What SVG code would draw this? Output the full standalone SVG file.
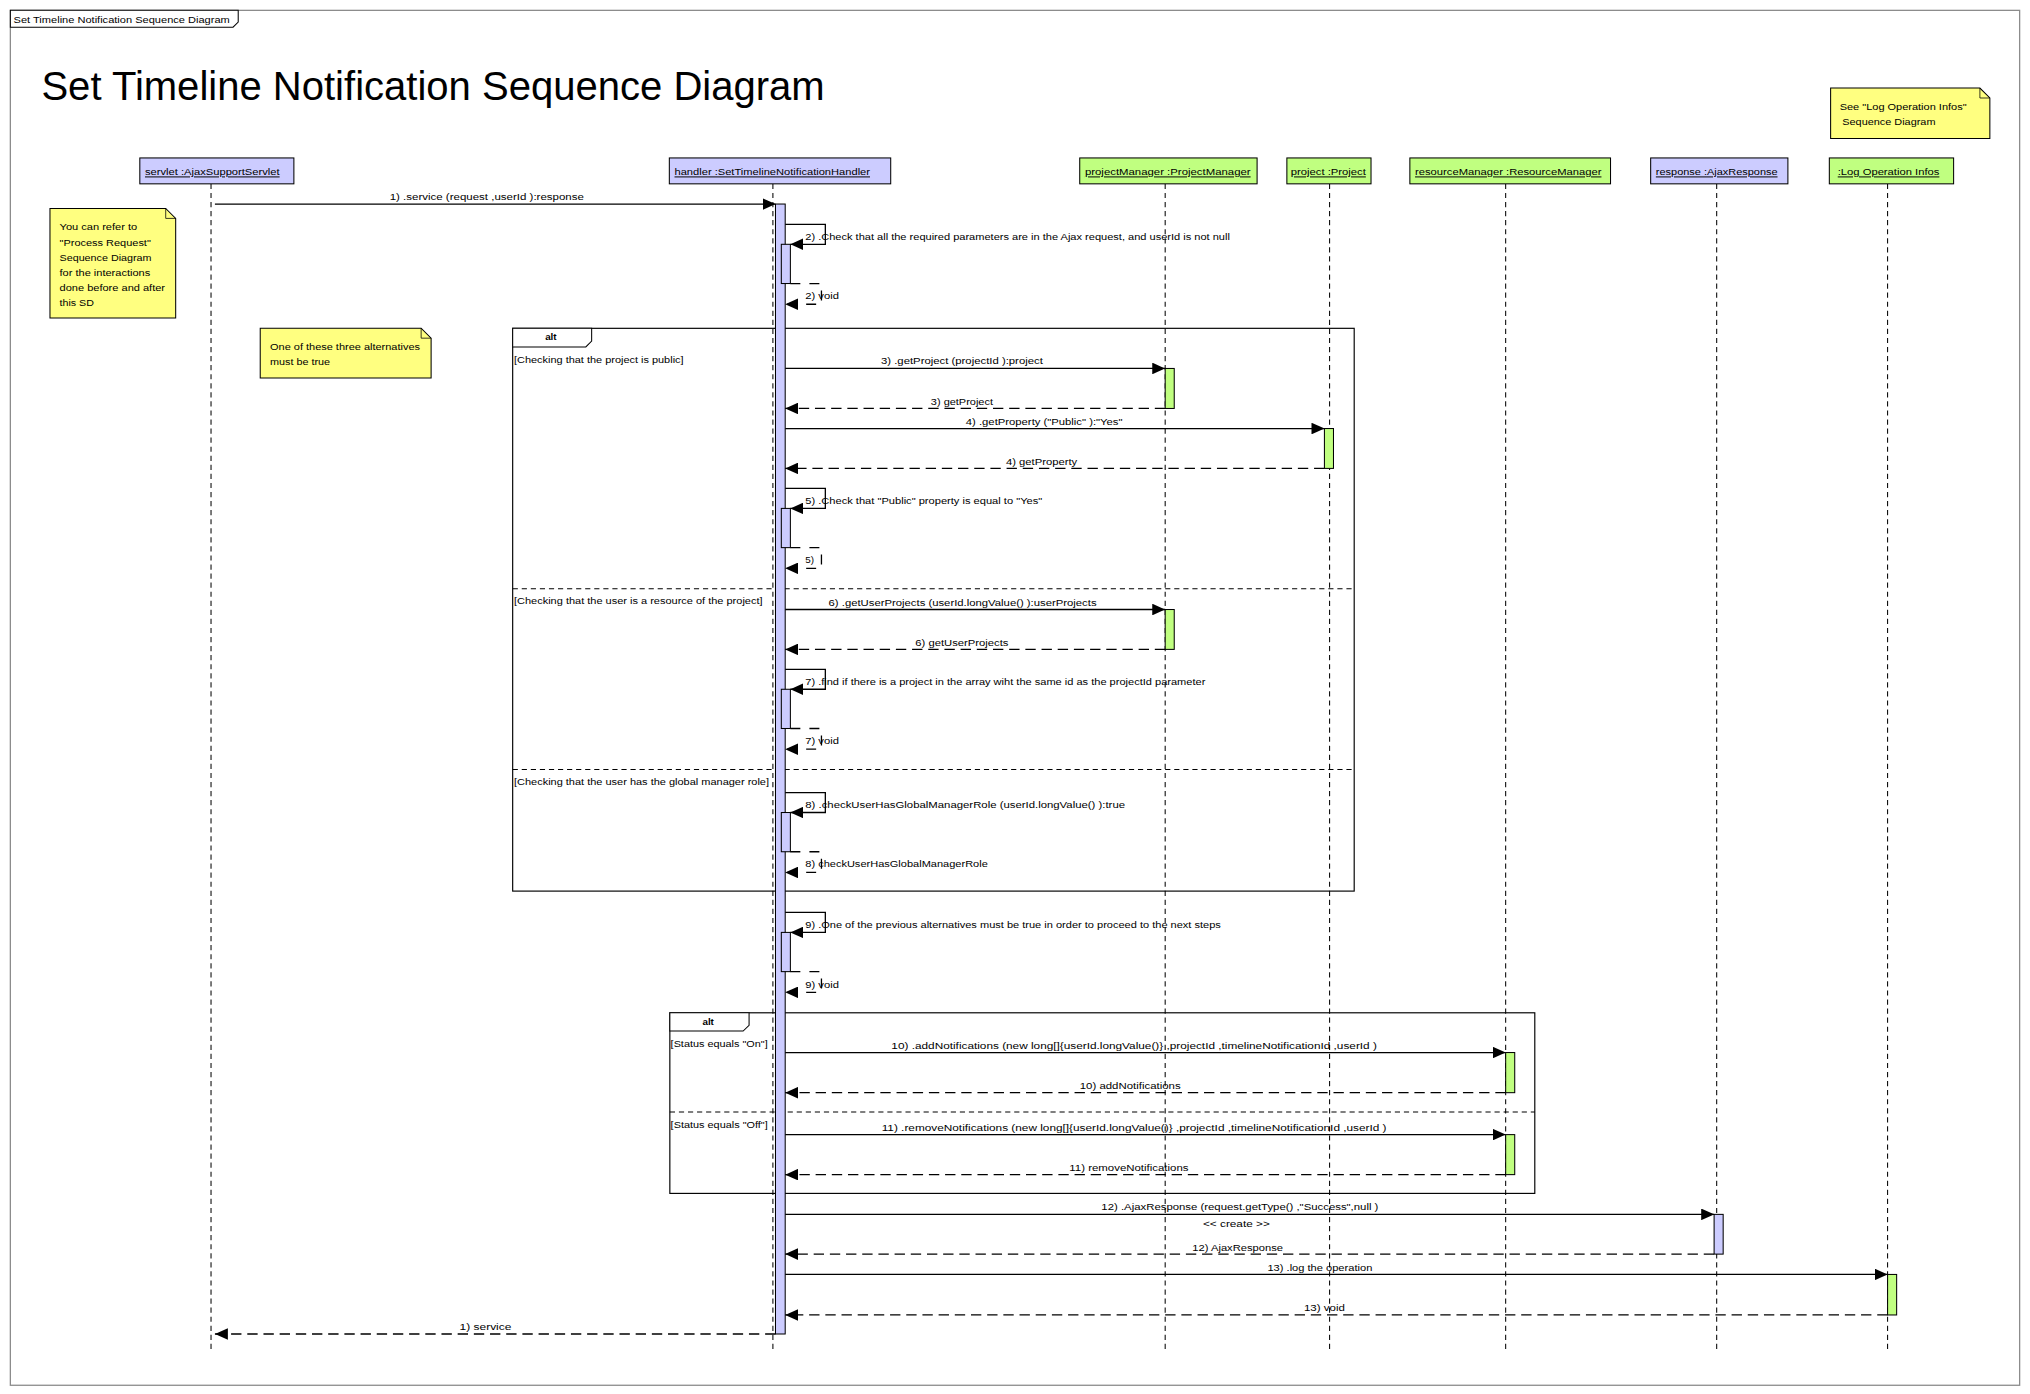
<svg xmlns="http://www.w3.org/2000/svg" width="2030" height="1394" viewBox="0 0 2030 1394">
<style>
.t{font-family:"Liberation Sans",Arial,sans-serif;font-size:7.6px;fill:#000}
.c{text-anchor:middle}
.u{text-decoration:underline}
.ll{stroke:#000;stroke-width:0.8;stroke-dasharray:4 3;fill:none}
.msg{stroke:#000;stroke-width:1;fill:none;marker-end:url(#ah)}
.ret{stroke:#000;stroke-width:1;fill:none;stroke-dasharray:8 4.5;marker-end:url(#ah)}
.sret{stroke:#000;stroke-width:1;fill:none;stroke-dasharray:7.7 7;marker-end:url(#ah)}
.lav{fill:#ccccff;stroke:#000;stroke-width:0.8}
.grn{fill:#c0ff80;stroke:#000;stroke-width:0.8}
.note{fill:#ffff80;stroke:#000;stroke-width:0.8}
.frm{fill:none;stroke:#000;stroke-width:0.9}
.sep{fill:none;stroke:#000;stroke-width:0.8;stroke-dasharray:4 3}
.tab{fill:#fff;stroke:#000;stroke-width:0.8}
</style>
<defs>
<marker id="ah" markerUnits="userSpaceOnUse" markerWidth="10" markerHeight="9" refX="10" refY="4.5" orient="auto">
<path d="M0,0 L10,4.5 L0,9 z" fill="#000"/>
</marker>
</defs>
<rect width="2030" height="1394" fill="#fff"/>
<g transform="scale(1.29464)">
<g id="frame">
<rect x="8" y="8" width="1552" height="1062" fill="none" stroke="#8c8c8c" stroke-width="1"/>
<polygon points="8,8 184,8 184,17 180,21 8,21" class="tab"/>
<text x="10.5" y="17.5" class="t" style="font-size:7px" textLength="167" lengthAdjust="spacingAndGlyphs">Set Timeline Notification Sequence Diagram</text>
<text x="32" y="77" style="font-family:'Liberation Sans',Arial,sans-serif;font-size:31px;fill:#000" textLength="605" lengthAdjust="spacingAndGlyphs">Set Timeline Notification Sequence Diagram</text>
</g>

<g id="alt1">
<rect x="396" y="253.6" width="650" height="434.7" class="frm"/>
<polygon points="396,253.6 457,253.6 457,263.5 452.5,268 396,268" class="tab"/>
<text x="425.5" y="263" class="t c" style="font-weight:bold">alt</text>
<line x1="396" y1="454.7" x2="1046" y2="454.7" class="sep"/>
<line x1="396" y1="594.3" x2="1046" y2="594.3" class="sep"/>
<text x="397" y="280.5" class="t" textLength="131" lengthAdjust="spacingAndGlyphs">[Checking that the project is public]</text>
<text x="397" y="466.5" class="t" textLength="192" lengthAdjust="spacingAndGlyphs">[Checking that the user is a resource of the project]</text>
<text x="397" y="606.5" class="t" textLength="197" lengthAdjust="spacingAndGlyphs">[Checking that the user has the global manager role]</text>
</g>

<g id="alt2">
<rect x="517.4" y="782.3" width="668.1" height="139.5" class="frm"/>
<polygon points="517.4,782.3 578.6,782.3 578.6,792 574,796.4 517.4,796.4" class="tab"/>
<text x="547" y="791.5" class="t c" style="font-weight:bold">alt</text>
<line x1="517.4" y1="859" x2="1185.5" y2="859" class="sep"/>
<text x="518" y="809" class="t" textLength="75" lengthAdjust="spacingAndGlyphs">[Status equals "On"]</text>
<text x="518" y="871.5" class="t" textLength="75" lengthAdjust="spacingAndGlyphs">[Status equals "Off"]</text>
</g>

<g id="servlet">
<line x1="163" y1="142" x2="163" y2="1045" class="ll"/>
<rect x="108" y="122" width="119" height="20" class="lav"/>
<text x="112" y="135.5" class="t u" textLength="104" lengthAdjust="spacingAndGlyphs">servlet :AjaxSupportServlet</text>
</g>

<g id="handler">
<line x1="597" y1="142" x2="597" y2="1045" class="ll"/>
<rect x="517" y="122" width="171" height="20" class="lav"/>
<text x="521" y="135.5" class="t u" textLength="151" lengthAdjust="spacingAndGlyphs">handler :SetTimelineNotificationHandler</text>
<rect x="599" y="157.6" width="7.5" height="872.8" class="lav"/>
<rect x="603.5" y="188.7" width="7" height="30.3" class="lav"/>
<rect x="603.5" y="392.7" width="7" height="30.3" class="lav"/>
<rect x="603.5" y="532.4" width="7" height="30.3" class="lav"/>
<rect x="603.5" y="627.6" width="7" height="30.3" class="lav"/>
<rect x="603.5" y="720.2" width="7" height="30.3" class="lav"/>
</g>

<g id="projectManager">
<line x1="900" y1="142" x2="900" y2="1045" class="ll"/>
<rect x="834" y="122" width="137" height="20" class="grn"/>
<text x="838" y="135.5" class="t u" textLength="128" lengthAdjust="spacingAndGlyphs">projectManager :ProjectManager</text>
<rect x="900" y="284.6" width="7" height="30.9" class="grn"/>
<rect x="900" y="470.8" width="7" height="30.8" class="grn"/>
</g>

<g id="project">
<line x1="1027" y1="142" x2="1027" y2="1045" class="ll"/>
<rect x="994" y="122" width="65" height="20" class="grn"/>
<text x="997" y="135.5" class="t u" textLength="58" lengthAdjust="spacingAndGlyphs">project :Project</text>
<rect x="1023" y="331" width="7" height="30.8" class="grn"/>
</g>

<g id="resourceManager">
<line x1="1163" y1="142" x2="1163" y2="1045" class="ll"/>
<rect x="1089" y="122" width="155" height="20" class="grn"/>
<text x="1093" y="135.5" class="t u" textLength="144" lengthAdjust="spacingAndGlyphs">resourceManager :ResourceManager</text>
<rect x="1163" y="813" width="7" height="31" class="grn"/>
<rect x="1163" y="876.4" width="7" height="30.9" class="grn"/>
</g>

<g id="response">
<line x1="1326" y1="142" x2="1326" y2="1045" class="ll"/>
<rect x="1275" y="122" width="106" height="20" class="lav"/>
<text x="1279" y="135.5" class="t u" textLength="94" lengthAdjust="spacingAndGlyphs">response :AjaxResponse</text>
<rect x="1324" y="938" width="7" height="30.7" class="lav"/>
</g>

<g id="logOperation">
<line x1="1458" y1="142" x2="1458" y2="1045" class="ll"/>
<rect x="1413" y="122" width="96" height="20" class="grn"/>
<text x="1419.5" y="135.5" class="t u" textLength="78.5" lengthAdjust="spacingAndGlyphs">:Log Operation Infos</text>
<rect x="1458" y="984.4" width="7" height="31.3" class="grn"/>
</g>

<g id="note-process">
<polygon points="38.6,161 128,161 135.7,168.7 135.7,245.7 38.6,245.7" class="note"/>
<polyline points="128,161 128,168.7 135.7,168.7" fill="none" stroke="#000" stroke-width="0.6"/>
<text x="46" y="178" class="t" textLength="60" lengthAdjust="spacingAndGlyphs">You can refer to</text>
<text x="46" y="190" class="t" textLength="70.5" lengthAdjust="spacingAndGlyphs">"Process Request"</text>
<text x="46" y="201.5" class="t" textLength="71" lengthAdjust="spacingAndGlyphs">Sequence Diagram</text>
<text x="46" y="213" class="t" textLength="70" lengthAdjust="spacingAndGlyphs">for the interactions</text>
<text x="46" y="224.5" class="t" textLength="81.5" lengthAdjust="spacingAndGlyphs">done before and after</text>
<text x="46" y="236" class="t" textLength="26.5" lengthAdjust="spacingAndGlyphs">this SD</text>
</g>

<g id="note-alternatives">
<polygon points="201,253.5 325.3,253.5 333,261.2 333,292 201,292" class="note"/>
<polyline points="325.3,253.5 325.3,261.2 333,261.2" fill="none" stroke="#000" stroke-width="0.6"/>
<text x="208.6" y="270.5" class="t" textLength="115.8" lengthAdjust="spacingAndGlyphs">One of these three alternatives</text>
<text x="208.6" y="282" class="t" textLength="46.4" lengthAdjust="spacingAndGlyphs">must be true</text>
</g>

<g id="note-log">
<polygon points="1414,68 1529.3,68 1537,75.7 1537,107 1414,107" class="note"/>
<polyline points="1529.3,68 1529.3,75.7 1537,75.7" fill="none" stroke="#000" stroke-width="0.6"/>
<text x="1421" y="85" class="t" textLength="98" lengthAdjust="spacingAndGlyphs">See "Log Operation Infos"</text>
<text x="1423" y="96.8" class="t" textLength="72" lengthAdjust="spacingAndGlyphs">Sequence Diagram</text>
</g>

<g id="connectors">
<path d="M166,157.6 H599" class="msg"/>
<text x="376" y="154.5" class="t c" textLength="150" lengthAdjust="spacingAndGlyphs">1) .service (request ,userId ):response</text>

<path d="M606.5,173.3 H637.5 V188.7 H610.5" class="msg"/>
<text x="622" y="185" class="t" textLength="328" lengthAdjust="spacingAndGlyphs">2) .Check that all the required parameters are in the Ajax request, and userId is not null</text>
<path d="M610.5,219 H634.5 V235 H606.5" class="sret"/>
<text x="622" y="231" class="t" textLength="26" lengthAdjust="spacingAndGlyphs">2) void</text>

<path d="M606.5,284.6 H900" class="msg"/>
<text x="743" y="281.5" class="t c" textLength="125" lengthAdjust="spacingAndGlyphs">3) .getProject (projectId ):project</text>
<path d="M900,315.5 H606.5" class="ret"/>
<text x="743" y="312.5" class="t c" textLength="48" lengthAdjust="spacingAndGlyphs">3) getProject</text>

<path d="M606.5,331 H1023" class="msg"/>
<text x="806.5" y="328" class="t c" textLength="121" lengthAdjust="spacingAndGlyphs">4) .getProperty ("Public" ):"Yes"</text>
<path d="M1023,361.8 H606.5" class="ret"/>
<text x="804.5" y="359" class="t c" textLength="55" lengthAdjust="spacingAndGlyphs">4) getProperty</text>

<path d="M606.5,377.3 H637.5 V392.7 H610.5" class="msg"/>
<text x="622" y="389" class="t" textLength="183" lengthAdjust="spacingAndGlyphs">5) .Check that "Public" property is equal to "Yes"</text>
<path d="M610.5,423 H634.5 V439 H606.5" class="sret"/>
<text x="622" y="435" class="t">5)</text>

<path d="M606.5,470.8 H900" class="msg"/>
<text x="743.5" y="467.8" class="t c" textLength="207" lengthAdjust="spacingAndGlyphs">6) .getUserProjects (userId.longValue() ):userProjects</text>
<path d="M900,501.6 H606.5" class="ret"/>
<text x="743" y="498.6" class="t c" textLength="72" lengthAdjust="spacingAndGlyphs">6) getUserProjects</text>

<path d="M606.5,517 H637.5 V532.4 H610.5" class="msg"/>
<text x="622" y="529" class="t" textLength="309" lengthAdjust="spacingAndGlyphs">7) .find if there is a project in the array wiht the same id as the projectId parameter</text>
<path d="M610.5,562.7 H634.5 V578.7 H606.5" class="sret"/>
<text x="622" y="575" class="t" textLength="26" lengthAdjust="spacingAndGlyphs">7) void</text>

<path d="M606.5,612.2 H637.5 V627.6 H610.5" class="msg"/>
<text x="622" y="624" class="t" textLength="247" lengthAdjust="spacingAndGlyphs">8) .checkUserHasGlobalManagerRole (userId.longValue() ):true</text>
<path d="M610.5,657.9 H634.5 V673.9 H606.5" class="sret"/>
<text x="622" y="670" class="t" textLength="141" lengthAdjust="spacingAndGlyphs">8) checkUserHasGlobalManagerRole</text>

<path d="M606.5,704.8 H637.5 V720.2 H610.5" class="msg"/>
<text x="622" y="717" class="t" textLength="321" lengthAdjust="spacingAndGlyphs">9) .One of the previous alternatives must be true in order to proceed to the next steps</text>
<path d="M610.5,750.5 H634.5 V766.5 H606.5" class="sret"/>
<text x="622" y="763" class="t" textLength="26" lengthAdjust="spacingAndGlyphs">9) void</text>

<path d="M606.5,813 H1163" class="msg"/>
<text x="876" y="810" class="t c" textLength="375" lengthAdjust="spacingAndGlyphs">10) .addNotifications (new long[]{userId.longValue()} ,projectId ,timelineNotificationId ,userId )</text>
<path d="M1163,844 H606.5" class="ret"/>
<text x="873" y="841" class="t c" textLength="78" lengthAdjust="spacingAndGlyphs">10) addNotifications</text>

<path d="M606.5,876.4 H1163" class="msg"/>
<text x="876" y="873.4" class="t c" textLength="390" lengthAdjust="spacingAndGlyphs">11) .removeNotifications (new long[]{userId.longValue()} ,projectId ,timelineNotificationId ,userId )</text>
<path d="M1163,907.3 H606.5" class="ret"/>
<text x="872" y="904.3" class="t c" textLength="92" lengthAdjust="spacingAndGlyphs">11) removeNotifications</text>

<path d="M606.5,938 H1324" class="msg"/>
<text x="957.7" y="935" class="t c" textLength="214" lengthAdjust="spacingAndGlyphs">12) .AjaxResponse (request.getType() ,"Success",null )</text>
<text x="955" y="948" class="t c" style="font-size:7px" textLength="51.6" lengthAdjust="spacingAndGlyphs">&lt;&lt; create &gt;&gt;</text>
<path d="M1324,968.7 H606.5" class="ret"/>
<text x="956" y="966" class="t c" textLength="70" lengthAdjust="spacingAndGlyphs">12) AjaxResponse</text>

<path d="M606.5,984.4 H1458" class="msg"/>
<text x="1019.5" y="981.4" class="t c" textLength="81" lengthAdjust="spacingAndGlyphs">13) .log the operation</text>
<path d="M1458,1015.7 H606.5" class="ret"/>
<text x="1023" y="1012.7" class="t c" textLength="31.6" lengthAdjust="spacingAndGlyphs">13) void</text>

<path d="M599,1030.4 H166" class="ret"/>
<text x="375" y="1027.5" class="t c" textLength="40" lengthAdjust="spacingAndGlyphs">1) service</text>
</g>
</g>
</svg>
